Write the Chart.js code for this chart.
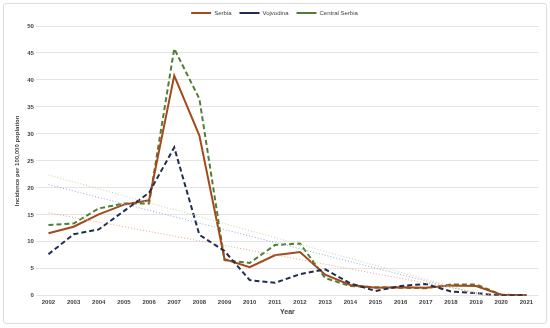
<!DOCTYPE html>
<html>
<head>
<meta charset="utf-8">
<script src="https://cdn.jsdelivr.net/npm/chart.js@4"></script>
<style>
    body { margin: 0; background: #fff; }
    .wrap { position: relative; width: 550px; height: 328px; }
    .frame {
        position: absolute; left: 3px; top: 3px; width: 542px; height: 319px;
        border: 1px solid #dcdcdc; border-radius: 3px; pointer-events: none;
    }
</style>
</head>
<body>
<div class="wrap">
    <canvas id="lineChart" width="550" height="328"></canvas>
    <div class="frame"></div>
</div>
<script>
// Data
const years = ['2002', '2003', '2004', '2005', '2006', '2007', '2008', '2009', '2010', '2011',
    '2012', '2013', '2014', '2015', '2016', '2017', '2018', '2019', '2020', '2021'];
const serbia = [11.6, 12.8, 15.1, 16.9, 17.7, 40.8, 29.7, 6.8, 5.3, 7.5,
    8.1, 3.9, 2.0, 1.5, 1.6, 1.5, 1.9, 1.8, 0.2, 0.1];
const vojvodina = [7.7, 11.4, 12.3, 15.7, 19.1, 27.5, 11.3, 8.3, 2.9, 2.4,
    4.0, 4.9, 2.3, 0.9, 1.8, 2.2, 0.8, 0.5, 0.0, 0.1];
const centralSerbia = [13.1, 13.4, 16.2, 17.1, 17.1, 45.8, 36.5, 6.6, 6.1, 9.4,
    9.7, 3.3, 1.8, 1.6, 1.5, 1.4, 2.1, 2.1, 0.2, 0.1];
// Linear trend lines: value at first and last year
const serbiaTrend = [15.4, -1.1];
const vojvodinaTrend = [20.6, -2.0];
const centralTrend = [22.4, -2.1];
const yTicks = [0, 5, 10, 15, 20, 25, 30, 35, 40, 45, 50];

const fontFamily = '"Liberation Sans", Arial, sans-serif';

// Trend line only has its two ends, the rest is spanned
function trendData(ends) {
    return years.map((y, i) => i === 0 ? ends[0] : (i === years.length - 1 ? ends[1] : null));
}

function lineSet(label, data, color, dash) {
    return {
        label: label,
        data: data,
        borderColor: color,
        backgroundColor: color,
        borderWidth: 2,
        borderDash: dash,
        pointRadius: 0,
        tension: 0,
        fill: false
    };
}

function trendSet(label, ends, color) {
    return {
        label: label,
        data: trendData(ends),
        borderColor: color,
        borderWidth: 1,
        borderDash: [1, 2],
        pointRadius: 0,
        spanGaps: true,
        fill: false,
        trend: true
    };
}

function init() {
    const ctx = document.getElementById('lineChart');
    new Chart(ctx, {
        type: 'line',
        data: {
            labels: years,
            datasets: [
                trendSet('Trend Serbia', serbiaTrend, '#e3a98a'),
                trendSet('Trend Vojvodina', vojvodinaTrend, '#8faadc'),
                trendSet('Trend Central Serbia', centralTrend, '#c3d69b'),
                lineSet('Vojvodina', vojvodina, '#1f2d4f', [5, 3]),
                lineSet('Serbia', serbia, '#a34a1c', []),
                lineSet('Central Serbia', centralSerbia, '#4f7f36', [5, 3])
            ]
        },
        options: {
            responsive: false,
            animation: false,
            layout: {
                padding: { left: 10, right: 11, top: 2, bottom: 12 }
            },
            scales: {
                x: {
                    offset: true,
                    grid: { display: false, drawTicks: false },
                    border: { display: false },
                    ticks: {
                        color: '#404040',
                        font: { family: fontFamily, size: 6, weight: 'bold' },
                        maxRotation: 0,
                        autoSkip: false,
                        padding: 3
                    },
                    title: {
                        display: true,
                        text: 'Year',
                        color: '#404040',
                        font: { family: fontFamily, size: 7, weight: 'bold', lineHeight: 1 },
                        padding: { top: 0, bottom: 0 }
                    }
                },
                y: {
                    min: 0,
                    max: 50,
                    afterBuildTicks: axis => { axis.ticks = yTicks.map(v => ({ value: v })); },
                    grid: { color: '#e4e4e4', lineWidth: 1, drawTicks: false },
                    border: { display: false },
                    ticks: {
                        color: '#404040',
                        font: { family: fontFamily, size: 6, weight: 'bold' },
                        padding: 2
                    },
                    title: {
                        display: true,
                        text: 'Incidence per 100,000 poplation',
                        color: '#404040',
                        font: { family: fontFamily, size: 6, weight: 'bold' },
                        padding: { top: 4, bottom: 4 }
                    }
                }
            },
            plugins: {
                legend: {
                    display: true,
                    position: 'top',
                    labels: {
                        filter: (item, data) => !data.datasets[item.datasetIndex].trend,
                        sort: (a, b) => {
                            const order = ['Serbia', 'Vojvodina', 'Central Serbia'];
                            return order.indexOf(a.text) - order.indexOf(b.text);
                        },
                        usePointStyle: true,
                        pointStyle: 'line',
                        pointStyleWidth: 20,
                        color: '#404040',
                        font: { family: fontFamily, size: 6 },
                        padding: 8
                    }
                },
                tooltip: { enabled: false }
            }
        }
    });
}

window.onload = init;
</script>
</body>
</html>
